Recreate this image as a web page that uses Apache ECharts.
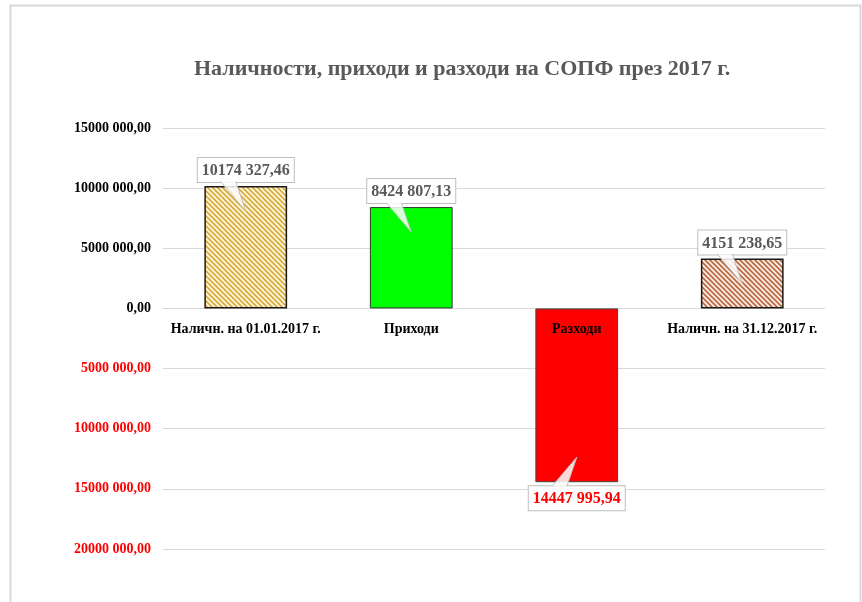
<!DOCTYPE html>
<html><head><meta charset="utf-8">
<script src="https://cdn.jsdelivr.net/npm/echarts@6/dist/echarts.min.js"></script>
<style>html,body{margin:0;padding:0;background:#fff}#c{width:862px;height:602px}</style>
</head><body><div id="c"></div>
<script>
const categories = ['Наличн. на 01.01.2017 г.', 'Приходи', 'Разходи', 'Наличн. на 31.12.2017 г.'];
const values = [10174327.46, 8424807.13, -14447995.94, 4151238.65];
const yMin = -20000000, yMax = 15000000, yStep = 5000000;
const titleText = 'Наличности, приходи и разходи на СОПФ през 2017 г.';

function fmt(v){
  const a = Math.abs(v);
  const cents = Math.round(a*100);
  const ip = Math.floor(cents/100);
  const dec = String(cents%100).padStart(2,'0');
  const th = Math.floor(ip/1000), rest = ip%1000;
  return (th>0 ? th+' '+String(rest).padStart(3,'0') : String(rest)) + ',' + dec;
}
function hatch(fg, bg){
  const c = document.createElement('canvas');
  c.width = 5; c.height = 5;
  const x = c.getContext('2d');
  x.fillStyle = bg; x.fillRect(0,0,5,5);
  x.strokeStyle = fg; x.lineWidth = 1.6;
  x.beginPath();
  x.moveTo(-1,-1); x.lineTo(6,6);
  x.moveTo(-1,4); x.lineTo(1,6);
  x.moveTo(4,-1); x.lineTo(6,1);
  x.stroke();
  return {image: c, repeat: 'repeat'};
}
const fills = [hatch('#d6a93a','#fff6dc'), '#00ff00', '#ff0000', hatch('#b8673e','#fbece4')];
const borders = [['#1a1a1a',1.5], ['#2a3a2a',1], ['#404040',1], ['#1a1a1a',1.5]];

const chart = echarts.init(document.getElementById('c'), null, {renderer:'canvas'});
const serif = '"Liberation Serif", "Times New Roman", serif';
chart.setOption({
  animation: false,
  title: {text: titleText, left: 189, top: 53,
    textStyle: {fontFamily: serif, fontWeight: 'bold', fontSize: 22, color: '#595959'}},
  graphic: [{type:'rect', shape:{x:10.5, y:5.5, width:850, height:640},
    style:{fill:'none', stroke:'#d9d9d9', lineWidth:2}, silent:true, z:-1}],
  grid: {left: 163, right: 37, top: 128, bottom: 53, containLabel: false},
  xAxis: {type:'category', data: categories,
    axisLine: {show: true, onZero: true, lineStyle:{color:'#d9d9d9', width:1}},
    axisTick: {show:false},
    axisLabel: {show:false}},
  yAxis: {type:'value', min: yMin, max: yMax, interval: yStep,
    axisLine:{show:false}, axisTick:{show:false},
    splitLine:{lineStyle:{color:'#d9d9d9', width:1}},
    axisLabel:{margin: 12, fontFamily: serif, fontWeight:'bold', fontSize: 14,
      formatter: v => fmt(v),
      color: v => (v < 0 ? '#ff0000' : '#000000')}},
  series: [
    {type:'bar', barWidth:'50%', z:2,
     data: values.map((v,i)=>({value:v,
       itemStyle:{color: fills[i], borderColor: borders[i][0], borderWidth: borders[i][1]},
       label:{show:true, position: v>=0?'top':'bottom', distance: 4,
         formatter: p => fmt(p.value),
         fontFamily: serif, fontWeight:'bold', fontSize:16,
         color: v>=0 ? '#595959' : '#ff0000',
         backgroundColor:'#ffffff', borderColor:'#bfbfbf', borderWidth:1,
         padding:[5,4,3,4]}}))},
    {type:'custom', z:5, silent:true,
     data: values.map((v,i)=>[i,v]),
     renderItem: function(params, api){
       const v = api.value(1);
       const p = api.coord([api.value(0), v]);
       const s = v >= 0 ? 1 : -1;
       const by = p[1] - s*4.5;
       const tip = [p[0], p[1] + s*25];
       const b1 = [p[0]-25, by + s*0.5], b2 = [p[0]-10, by + s*0.5];
       return {type:'group', children:[
         {type:'polygon', shape:{points:[b1, tip, b2]}, style:{fill:'rgba(255,255,255,0.85)', stroke:null}},
         {type:'polyline', shape:{points:[[b1[0], by], tip, [b2[0], by]]}, style:{fill:null, stroke:'#bfbfbf', lineWidth:1}}
       ]};
     }},
    {type:'custom', z:10, silent:true,
     data: categories.map((c,i)=>[i,0]),
     renderItem: function(params, api){
       const i = api.value(0);
       const p = api.coord([i, 0]);
       return {type:'text', x: p[0], y: p[1] + 21,
         style:{text: categories[i], fill:'#000', font: 'bold 14px ' + serif,
           align:'center', verticalAlign:'middle'}};
     }}
  ]
});
</script></body></html>
